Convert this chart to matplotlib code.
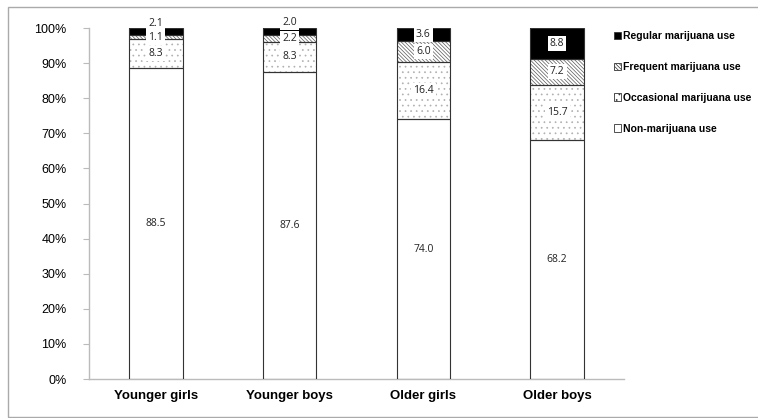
import matplotlib
matplotlib.use("Agg")
import matplotlib.pyplot as plt
from matplotlib.patches import Rectangle, Patch
import numpy as np

categories = ["Younger girls", "Younger boys", "Older girls", "Older boys"]
series_names = ["Non-marijuana use", "Occasional marijuana use",
                "Frequent marijuana use", "Regular marijuana use"]
non_use = [88.5, 87.6, 74.0, 68.2]
occasional = [8.3, 8.3, 16.4, 15.7]
frequent = [1.1, 2.2, 6.0, 7.2]
regular = [2.1, 2.0, 3.6, 8.8]
y_ticks = [0, 10, 20, 30, 40, 50, 60, 70, 80, 90, 100]
y_tick_labels = ["0%", "10%", "20%", "30%", "40%", "50%", "60%", "70%",
                 "80%", "90%", "100%"]

series = [non_use, occasional, frequent, regular]
fills = ["white", "white", "white", "black"]
hatches = [None, "...", "\\" * 9, None]
hatch_colors = ["#888888", "#b0b0b0", "#5a5a5a", "black"]

plt.rcParams["hatch.linewidth"] = 0.5
fig = plt.figure(figsize=(7.58, 4.18), dpi=100)
ax = fig.add_axes([0.1174, 0.0933, 0.7058, 0.8397])

x = np.arange(len(categories))
width = 0.4
bottom = np.zeros(len(categories))
for vals, fc, h, hc in zip(series, fills, hatches, hatch_colors):
    vals = np.array(vals)
    if h:
        ax.bar(x, vals, width, bottom=bottom, color=fc, hatch=h,
               edgecolor=hc, linewidth=0, zorder=2)
    else:
        ax.bar(x, vals, width, bottom=bottom, color=fc, linewidth=0, zorder=2)
    ax.bar(x, vals, width, bottom=bottom, fill=False, edgecolor="#333333",
           linewidth=0.8, zorder=3)
    bottom += vals

# value labels, nudged upward where a top segment is too thin
label_nudge = {(3, 0): 6, (3, 1): 6}
bottom = np.zeros(len(categories))
for si, vals in enumerate(series):
    for ci, v in enumerate(vals):
        yc = bottom[ci] + v / 2
        dy = label_nudge.get((si, ci), 0)
        ax.annotate(f"{v:.1f}", (x[ci], yc), xytext=(0, dy),
                    textcoords="offset points", ha="center", va="center",
                    fontsize=7.5, family="Open Sans", color="#222222",
                    bbox=dict(boxstyle="square,pad=0.2", fc="white", ec="none"),
                    zorder=5, annotation_clip=False)
    bottom += np.array(vals)

ax.set_xlim(-0.5, len(categories) - 0.5)
ax.set_ylim(0, 100)
ax.set_yticks(y_ticks)
ax.set_yticklabels(y_tick_labels, family="Liberation Sans", fontsize=9)
ax.set_xticks(x)
ax.set_xticklabels(categories, family="Liberation Sans", fontsize=9.5,
                   fontweight="bold")
ax.tick_params(axis="x", length=0, pad=8)
ax.tick_params(axis="y", color="#bbbbbb", length=4, pad=12)
for s in ["top", "right"]:
    ax.spines[s].set_visible(False)
for s in ["left", "bottom"]:
    ax.spines[s].set_color("#bbbbbb")
    ax.spines[s].set_linewidth(1.0)

handles = [Patch(facecolor=fills[i], edgecolor="#333333", hatch=hatches[i],
                 linewidth=0.6) for i in range(4)][::-1]
leg = fig.legend(handles, series_names[::-1], loc="upper left",
                 bbox_to_anchor=(0.797, 0.948), frameon=False,
                 prop=dict(family="Liberation Sans", weight="bold", size=7.5),
                 handlelength=0.7, handleheight=0.7, handletextpad=0.25,
                 labelspacing=2.0)

fig.patches.append(Rectangle((0.0106, 0.0024), 1.0, 0.981,
                             transform=fig.transFigure, fill=False,
                             edgecolor="#aaaaaa", linewidth=1.0))

fig.savefig("out.png", dpi=100)
